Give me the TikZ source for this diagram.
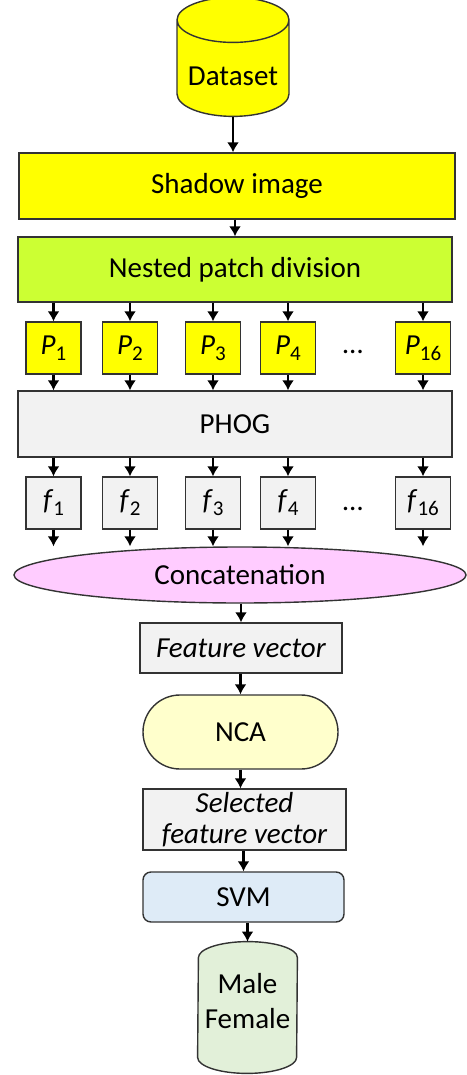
\documentclass[tikz,border=0pt]{standalone}
\usepackage{fontspec}
\setmainfont{Carlito}
\usetikzlibrary{arrows.meta}
\usetikzlibrary{shapes.geometric}
\usetikzlibrary{shapes.misc}

\definecolor{dsyellow}{HTML}{FFFF00}
\definecolor{nestgreen}{HTML}{CCFF33}
\definecolor{boxgray}{HTML}{F2F2F2}
\definecolor{concpink}{HTML}{FFCCFF}
\definecolor{ncayellow}{HTML}{FFFFCC}
\definecolor{svmblue}{HTML}{DEEBF7}
\definecolor{outgreen}{HTML}{E2F0D9}

\tikzset{
  box/.style={draw=black!80,line width=0.7pt,inner sep=0pt},
  flow/.style={-{Latex[length=5pt,width=6pt]},line width=1.3pt},
  patch/.style={box,fill=dsyellow,minimum width=27.5pt,minimum height=26pt},
  feat/.style={box,fill=boxgray,minimum width=27.5pt,minimum height=26pt}
}
\newcommand{\idx}[2]{\textit{#1}\raisebox{-3pt}{\fontsize{10.5}{10.5}\selectfont #2}}

\begin{document}
\begin{tikzpicture}[x=0.5pt,y=-0.5pt,font=\fontsize{14.5}{17.5}\selectfont]
  \useasboundingbox (0,0) rectangle (466,1075);

  \node (dataset) at (233,68.5) [box,cylinder,shape border rotate=90,aspect=0.5,fill=dsyellow,minimum width=56pt,minimum height=59.5pt] {\raisebox{-8.75pt}[0pt][0pt]{Dataset}};
  \node (shadow) at (237,186) [box,fill=dsyellow,minimum width=218pt,minimum height=33pt] {Shadow image};
  \node (nested) at (235,269.5) [box,fill=nestgreen,minimum width=217pt,minimum height=32.5pt] {Nested patch division};
  \node (phog) at (235,424) [box,fill=boxgray,minimum width=217pt,minimum height=33pt] {PHOG};
  \node (concat) at (240,575) [box,ellipse,fill=concpink,minimum width=226pt,minimum height=28pt] {Concatenation};

  \foreach \x/\n/\i in {53.5/1/1,130/2/2,213/3/3,288/4/4,423/16/5} {
    \node (p\i) at (\x,348) [patch] {\idx{P}{\n}};
    \node (f\i) at (\x,503) [feat] {\idx{f}{\n}};
    \draw[flow] (p\i.north |- nested.south) -- (p\i.north);
    \draw[flow] (p\i.south) -- (p\i.south |- phog.north);
    \draw[flow] (f\i.north |- phog.south) -- (f\i.north);
    \draw[flow] (f\i.south) -- (f\i.south |- concat.north);
  }
  \node (pdots) at (353,352) {\dots};
  \node (fdots) at (353,509) {\dots};

  \node (featvec) at (241,648) [box,fill=boxgray,minimum width=101pt,minimum height=25pt] {\textit{Feature vector}};
  \node (nca) at (240.5,732) [box,rounded rectangle,fill=ncayellow,minimum width=97.5pt,minimum height=37pt] {NCA};
  \node (selvec) at (244.5,819.5) [box,fill=boxgray,minimum width=101.5pt,minimum height=30.5pt,align=center,font=\fontsize{14.5}{15.5}\selectfont\itshape] {Selected\\feature vector};
  \node (svm) at (243.5,897) [box,rounded corners=4pt,fill=svmblue,minimum width=100.5pt,minimum height=25pt] {SVM};
  \node (out) at (247.5,1007.5) [inner sep=0pt,minimum width=49.5pt,minimum height=65.5pt] {};
  \draw[box,fill=outgreen] ([yshift=-8pt]out.north east) arc[start angle=0,end angle=180,x radius=24.75pt,y radius=8pt]
    -- ([yshift=8pt]out.south west) arc[start angle=180,end angle=360,x radius=24.75pt,y radius=8pt] -- cycle;
  \node (outtext) at ([yshift=3pt]out.center) [align=center] {Male\\Female};

  \draw[flow] (dataset.south) -- (dataset.south |- shadow.north);
  \draw[flow] (nested.north |- shadow.south) -- (nested.north);
  \draw[flow] (featvec.north |- concat.south) -- (featvec.north);
  \draw[flow] (nca.north |- featvec.south) -- (nca.north);
  \draw[flow] (nca.south) -- (nca.south |- selvec.north);
  \draw[flow] (svm.north |- selvec.south) -- (svm.north);
  \draw[flow] (out.north |- svm.south) -- (out.north);
\end{tikzpicture}
\end{document}
